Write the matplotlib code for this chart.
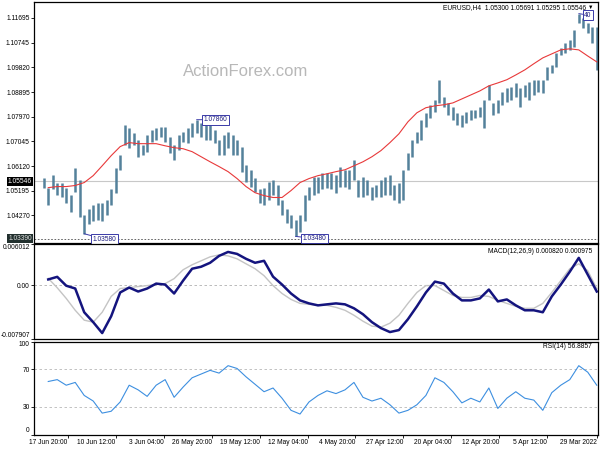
import numpy as np
import matplotlib
matplotlib.use("Agg")
import matplotlib.pyplot as plt
import matplotlib.transforms as mtransforms

plt.rcParams['font.family'] = ['Liberation Sans', 'DejaVu Sans']

# ---------------- data ----------------
# price bars, one every 3 H4 bars, oldest (29 Mar) first
bar_low = [1.0973, 1.1074, 1.1112, 1.1130, 1.1149, 1.1059, 1.1048, 1.1037, 1.1029, 1.0984,
           1.0962, 1.0936, 1.0887, 1.0891, 1.0879, 1.0861, 1.0872, 1.0834, 1.0872, 1.0861,
           1.0853, 1.0842, 1.0812, 1.0804, 1.0861, 1.0756, 1.0797, 1.0793, 1.0786, 1.0775,
           1.0760, 1.0767, 1.0786, 1.0804, 1.0834, 1.0849, 1.0816, 1.0793, 1.0760, 1.0711,
           1.0700, 1.0645, 1.0599, 1.0486, 1.0475, 1.0486, 1.0505, 1.0505, 1.0497, 1.0494,
           1.0486, 1.0505, 1.0494, 1.0497, 1.0561, 1.0524, 1.0535, 1.0535, 1.0512, 1.0524,
           1.0531, 1.0524, 1.0512, 1.0505, 1.0486, 1.0404, 1.0366, 1.0348, 1.0381, 1.0400,
           1.0430, 1.0467, 1.0505, 1.0486, 1.0467, 1.0475, 1.0516, 1.0535, 1.0554, 1.0591,
           1.0655, 1.0655, 1.0681, 1.0655, 1.0655, 1.0700, 1.0711, 1.0711, 1.0722, 1.0737,
           1.0722, 1.0700, 1.0703, 1.0673, 1.0636, 1.0662, 1.0703, 1.0722, 1.0711, 1.0703,
           1.0666, 1.0655, 1.0647, 1.0692, 1.0681, 1.0692, 1.0599, 1.0512, 1.0467, 1.0430,
           1.0404, 1.0411, 1.0404, 1.0393, 1.0358, 1.0422, 1.0516, 1.0441, 1.0475, 1.0497,
           1.0505, 1.0524, 1.0467, 1.0531]
bar_high = [1.1134, 1.1134, 1.1149, 1.1168, 1.1184, 1.1123, 1.1085, 1.1074, 1.1055, 1.1037,
            1.0992, 1.0984, 1.0936, 1.0936, 1.0936, 1.0928, 1.0917, 1.0906, 1.0924, 1.0909,
            1.0906, 1.0891, 1.0861, 1.0849, 1.0917, 1.0861, 1.0834, 1.0823, 1.0823, 1.0816,
            1.0804, 1.0812, 1.0834, 1.0849, 1.0872, 1.0936, 1.0861, 1.0842, 1.0812, 1.0786,
            1.0741, 1.0711, 1.0662, 1.0599, 1.0550, 1.0542, 1.0580, 1.0572, 1.0561, 1.0542,
            1.0535, 1.0561, 1.0572, 1.0561, 1.0636, 1.0599, 1.0599, 1.0610, 1.0580, 1.0587,
            1.0587, 1.0587, 1.0572, 1.0572, 1.0535, 1.0505, 1.0430, 1.0411, 1.0430, 1.0449,
            1.0486, 1.0542, 1.0561, 1.0554, 1.0531, 1.0524, 1.0569, 1.0599, 1.0617, 1.0685,
            1.0711, 1.0730, 1.0741, 1.0730, 1.0711, 1.0748, 1.0767, 1.0767, 1.0775, 1.0786,
            1.0775, 1.0756, 1.0741, 1.0730, 1.0692, 1.0722, 1.0760, 1.0760, 1.0756, 1.0748,
            1.0730, 1.0692, 1.0711, 1.0737, 1.0756, 1.0767, 1.0655, 1.0606, 1.0524, 1.0486,
            1.0475, 1.0475, 1.0467, 1.0449, 1.0430, 1.0561, 1.0606, 1.0505, 1.0531, 1.0550,
            1.0550, 1.0580, 1.0531, 1.0569]
BAR_STEP = 3

# indicators, one value every 6 H4 bars
ma_values = [1.1003, 1.1025, 1.1048, 1.1052, 1.1048, 1.1033, 1.1018, 1.0996, 1.0973, 1.0954,
             1.0936, 1.0924, 1.0913, 1.0894, 1.0879, 1.0864, 1.0849, 1.0842, 1.0838, 1.0831,
             1.0812, 1.0778, 1.0733, 1.0700, 1.0670, 1.0647, 1.0628, 1.0613, 1.0598, 1.0591,
             1.0583, 1.0576, 1.0565, 1.0550, 1.0520, 1.0494, 1.0494, 1.0501, 1.0512, 1.0535,
             1.0565, 1.0591, 1.0610, 1.0628, 1.0647, 1.0666, 1.0677, 1.0681, 1.0688, 1.0696,
             1.0696, 1.0696, 1.0700, 1.0685, 1.0651, 1.0613, 1.0576, 1.0550, 1.0539, 1.0535,
             1.0535, 1.0531]
macd_main = [-0.00095, 0.00152, 0.00398, 0.00195, 0.00007, -0.00167, -0.00399, -0.00370, -0.00370, -0.00298,
             -0.00211, -0.00240, -0.00066, -0.00196, -0.00225, -0.00225, -0.00124, 0.00021, 0.00050, -0.00109,
             -0.00312, -0.00501, -0.00660, -0.00689, -0.00631, -0.00544, -0.00428, -0.00341, -0.00283, -0.00269,
             -0.00283, -0.00298, -0.00269, -0.00225, -0.00124, 0.00007, 0.00123, 0.00355, 0.00326, 0.00384,
             0.00456, 0.00485, 0.00427, 0.00326, 0.00268, 0.00239, 0.00065, -0.00124, 0.00007, 0.00021,
             -0.00051, -0.00095, -0.00037, -0.00109, -0.00457, -0.00704, -0.00544, -0.00399, -0.00051, -0.00010,
             0.00120, 0.00082]
macd_signal = [-0.00051, 0.00210, 0.00311, 0.00239, 0.00065, -0.00109, -0.00269, -0.00341, -0.00341, -0.00312,
               -0.00269, -0.00225, -0.00167, -0.00153, -0.00182, -0.00182, -0.00153, -0.00080, -0.00008, -0.00008,
               -0.00109, -0.00269, -0.00443, -0.00559, -0.00617, -0.00602, -0.00530, -0.00443, -0.00370, -0.00327,
               -0.00298, -0.00298, -0.00283, -0.00269, -0.00211, -0.00124, -0.00008, 0.00137, 0.00239, 0.00311,
               0.00384, 0.00427, 0.00442, 0.00413, 0.00355, 0.00297, 0.00224, 0.00094, 0.00021, 0.00007,
               -0.00008, -0.00022, -0.00037, -0.00051, -0.00167, -0.00399, -0.00544, -0.00515, -0.00370, -0.00196,
               -0.00040, 0.00098]
rsi_values = [53, 67, 74, 59, 53, 45, 26, 37, 39, 46,
              39, 28, 50, 35, 39, 34, 46, 56, 61, 42,
              32, 26, 23, 32, 39, 36, 40, 56, 48, 44,
              47, 42, 35, 22, 26, 39, 50, 46, 54, 62,
              71, 74, 66, 69, 65, 61, 51, 40, 59, 53,
              41, 48, 53, 35, 25, 23, 36, 42, 56, 53,
              59, 57]
IND_STEP = 6

price_ticks = [1.11695, 1.10745, 1.09820, 1.08895, 1.07970, 1.07045, 1.06120, 1.05195, 1.04270]
current_price = 1.05546
bottom_line = 1.03390
macd_ticks = [0.006012, 0.0, -0.007907]
macd_tick_labels = ["0.006012", "0.00", "-0.007907"]
rsi_ticks = [100, 70, 30, 0]
time_label_bars = [0, 33, 65, 97, 129, 161, 193, 225, 257, 289, 321, 353]
time_labels = ["29 Mar 2022", "5 Apr 12:00", "12 Apr 20:00", "20 Apr 04:00", "27 Apr 12:00",
               "4 May 20:00", "12 May 04:00", "19 May 12:00", "26 May 20:00", "3 Jun 04:00",
               "10 Jun 12:00", "17 Jun 20:00"]
title_text = "EURUSD,H4  1.05300 1.05691 1.05295 1.05546"
macd_title = "MACD(12,26,9) 0.000820 0.000975"
rsi_title = "RSI(14) 56.8857"

# ---------------- figure ----------------
W, H = 600, 450
fig = plt.figure(figsize=(6, 4.5), dpi=100)
fig.patch.set_facecolor('white')

def box(l, t, r, b):
    return [l / W, 1 - b / H, (r - l) / W, (b - t) / H]

L, R = 34, 597.5
ax = fig.add_axes(box(L, 2, R, 243))
axm = fig.add_axes(box(L, 244, R, 339))
axr = fig.add_axes(box(L, 341.5, R, 434.5))

XL = (375.5, -0.5)
FS = 4.8
for a in (ax, axm, axr):
    a.set_xlim(*XL)
    for s in a.spines.values():
        s.set_linewidth(0.9)
        s.set_color('black')
    a.tick_params(axis='y', labelsize=FS, length=2, width=0.6, pad=1, colors='black')
    a.tick_params(axis='x', bottom=False, labelbottom=False)
    a.set_facecolor('white')

# main price panel
xb = np.arange(len(bar_low)) * BAR_STEP
ax.vlines(xb, bar_low, bar_high, color='#54819b', lw=1.8)
xi = np.arange(len(ma_values)) * IND_STEP
ax.plot(xi, ma_values, color='#e8393a', lw=0.8)
ax.axhline(current_price, color='#c8c8c8', lw=0.8, zorder=0)
ax.axhline(bottom_line, color='#505050', lw=0.6, ls=(0, (2, 2)))
ax.set_ylim(1.03232, 1.12277)
ax.set_yticks(price_ticks)
ax.set_yticklabels([f"{v:.5f}" for v in price_ticks])

blend = mtransforms.blended_transform_factory(ax.transAxes, ax.transData)
ax.text(-0.004, current_price, f"{current_price:.5f}", transform=blend, ha='right', va='center',
        fontsize=FS, color='white', clip_on=False,
        bbox=dict(boxstyle='square,pad=0.15', fc='black', ec='none'))
ax.text(-0.004, bottom_line, f"{bottom_line:.5f}", transform=blend, ha='right', va='center',
        fontsize=FS, color='#e0e0e0', clip_on=False,
        bbox=dict(boxstyle='square,pad=0.15', fc='#22302e', ec='none'))

ax.text(0.375, 0.71, "ActionForex.com", transform=ax.transAxes, ha='center', va='center',
        fontsize=12, color='#b8b8b8')

# high / low label boxes
bl = np.array(bar_low)
bh = np.array(bar_high)
box_style = dict(boxstyle='square,pad=0.2', fc='white', ec='#3a3aa8', lw=0.7)
arrow = dict(arrowstyle='-', color='#3a3aa8', lw=0.7, shrinkA=0, shrinkB=0)

def mark(idx, val, dx, dy, text=None):
    txt = f"{val:.5f}" if text is None else text
    return ax.annotate(txt, xy=(idx * BAR_STEP, val), xytext=(dx, dy),
                       textcoords='offset points', ha='left', va='center', fontsize=FS,
                       color='#1c1c80', bbox=box_style, arrowprops=arrow,
                       annotation_clip=False)

i_top = int(np.argmax(bh))
# only the tail of this label is visible at the chart edge in the reference
mark(i_top, bh[i_top], 4, -1, text=f"{bh[i_top]:.5f}"[-2:])
i_h2 = 80 + int(np.argmax(bh[80:106]))
mark(i_h2, bh[i_h2], 5, 0)
i_l1 = 60 + int(np.argmin(bl[60:76]))
mark(i_l1, bl[i_l1], 5, -1.5)
i_l2 = 105 + int(np.argmin(bl[105:]))
mark(i_l2, bl[i_l2], 6, -4)

fig.text(586 / W, 1 - 8 / H, title_text, ha='right', va='center', fontsize=FS)
fig.text(593 / W, 1 - 7 / H, "\u25BC", ha='right', va='center', fontsize=4)

# MACD panel
axm.plot(xi, macd_signal, color='#c4c4c4', lw=1.0)
axm.plot(xi, macd_main, color='#14147e', lw=1.8)
axm.axhline(0, color='#b0b0b0', lw=0.6, ls=(0, (3, 3)), zorder=0)
axm.set_ylim(-0.007907, 0.006012)
axm.set_yticks(macd_ticks)
axm.set_yticklabels(macd_tick_labels)
tl = axm.get_yticklabels()
tl[0].set_va('top')
tl[2].set_va('bottom')
fig.text(592 / W, 1 - 251 / H, macd_title, ha='right', va='center', fontsize=FS)

# RSI panel
axr.plot(xi, rsi_values, color='#3d8fe0', lw=0.8)
for lvl in (70, 30):
    axr.axhline(lvl, color='#b8b8b8', lw=0.6, ls=(0, (3, 3)), zorder=0)
axr.set_ylim(0, 100)
axr.set_yticks(rsi_ticks)
axr.set_yticklabels([str(v) for v in rsi_ticks])
tl = axr.get_yticklabels()
tl[0].set_va('top')
tl[3].set_va('bottom')
fig.text(592 / W, 1 - 347 / H, rsi_title, ha='right', va='center', fontsize=FS)

axr.tick_params(axis='x', bottom=True, labelbottom=True, labelsize=FS, length=2, width=0.6, pad=1.5)
axr.set_xticks(time_label_bars)
axr.set_xticklabels(time_labels)
for t in axr.get_xticklabels():
    t.set_ha('right')

fig.savefig("out.png", dpi=100)
